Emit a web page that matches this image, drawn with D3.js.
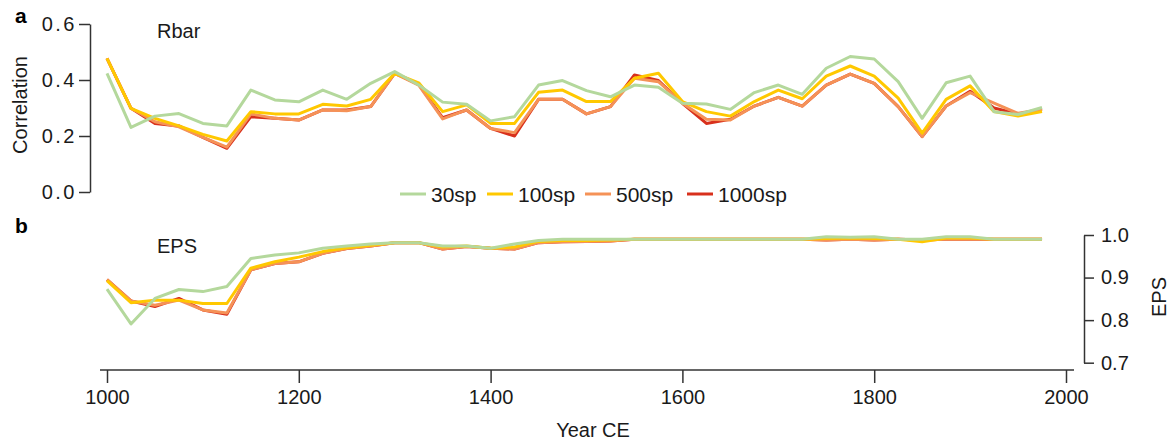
<!DOCTYPE html>
<html>
<head>
<meta charset="utf-8">
<script src="https://cdn.jsdelivr.net/npm/d3@7"></script>
<style>
  body { margin: 0; background: #fff; }
  svg { display: block; font-family: "Liberation Sans", Arial, sans-serif; }
  .axis text { font-size: 20px; fill: #1a1a1a; }
  .axis path, .axis line { stroke: #333; stroke-width: 1.5; }
</style>
</head>
<body>
<div class="chart"></div>
<script>
var svgWidth = 1174;
var svgHeight = 444;

// years, every 25 yr
var years = d3.range(1000, 2000, 25);

// Rbar (panel a)
var rbar30 = [0.424, 0.231, 0.271, 0.280, 0.245, 0.236, 0.364, 0.329, 0.322, 0.364,
  0.331, 0.388, 0.430, 0.382, 0.321, 0.313, 0.254, 0.269, 0.382, 0.398,
  0.362, 0.340, 0.382, 0.374, 0.317, 0.314, 0.295, 0.355, 0.382, 0.349,
  0.442, 0.484, 0.475, 0.394, 0.263, 0.390, 0.414, 0.287, 0.277, 0.302];
var rbar100 = [0.477, 0.299, 0.263, 0.236, 0.206, 0.182, 0.287, 0.279, 0.279, 0.313,
  0.307, 0.331, 0.424, 0.390, 0.287, 0.311, 0.245, 0.245, 0.356, 0.364,
  0.323, 0.323, 0.406, 0.424, 0.323, 0.287, 0.271, 0.323, 0.364, 0.333,
  0.414, 0.450, 0.414, 0.335, 0.210, 0.331, 0.379, 0.287, 0.271, 0.287];
var rbar500 = [0.477, 0.299, 0.251, 0.233, 0.195, 0.160, 0.279, 0.263, 0.257, 0.293,
  0.290, 0.305, 0.424, 0.382, 0.261, 0.293, 0.227, 0.212, 0.331, 0.331,
  0.279, 0.305, 0.406, 0.394, 0.317, 0.260, 0.257, 0.307, 0.338, 0.307,
  0.382, 0.421, 0.388, 0.305, 0.198, 0.307, 0.355, 0.317, 0.281, 0.295];
var rbar1000 = [0.477, 0.299, 0.245, 0.236, 0.195, 0.156, 0.269, 0.263, 0.257, 0.293,
  0.293, 0.305, 0.424, 0.385, 0.265, 0.293, 0.227, 0.200, 0.331, 0.331,
  0.279, 0.305, 0.418, 0.398, 0.317, 0.245, 0.260, 0.307, 0.338, 0.307,
  0.382, 0.421, 0.388, 0.305, 0.198, 0.307, 0.360, 0.300, 0.278, 0.297];

// EPS (panel b)
var eps30 = [0.873, 0.791, 0.851, 0.872, 0.867, 0.879, 0.945, 0.953, 0.958, 0.969,
  0.974, 0.979, 0.982, 0.982, 0.974, 0.974, 0.969, 0.979, 0.987, 0.990,
  0.990, 0.990, 0.990, 0.990, 0.990, 0.990, 0.990, 0.990, 0.990, 0.990,
  0.996, 0.995, 0.996, 0.990, 0.990, 0.996, 0.996, 0.990, 0.990, 0.990];
var eps100 = [0.893, 0.841, 0.847, 0.847, 0.839, 0.839, 0.922, 0.937, 0.948, 0.961,
  0.970, 0.976, 0.982, 0.982, 0.972, 0.974, 0.969, 0.972, 0.985, 0.987,
  0.987, 0.988, 0.990, 0.990, 0.990, 0.990, 0.990, 0.990, 0.990, 0.990,
  0.992, 0.993, 0.992, 0.990, 0.984, 0.993, 0.993, 0.990, 0.990, 0.990];
var eps500 = [0.895, 0.845, 0.835, 0.847, 0.824, 0.817, 0.918, 0.933, 0.937, 0.957,
  0.968, 0.974, 0.982, 0.982, 0.967, 0.973, 0.969, 0.967, 0.982, 0.984,
  0.985, 0.986, 0.990, 0.990, 0.990, 0.990, 0.990, 0.990, 0.990, 0.990,
  0.988, 0.990, 0.988, 0.990, 0.988, 0.990, 0.990, 0.990, 0.990, 0.990];
var eps1000 = [0.895, 0.845, 0.832, 0.851, 0.824, 0.814, 0.918, 0.933, 0.937, 0.957,
  0.968, 0.974, 0.982, 0.982, 0.967, 0.973, 0.969, 0.967, 0.982, 0.984,
  0.985, 0.986, 0.990, 0.990, 0.990, 0.990, 0.990, 0.990, 0.990, 0.990,
  0.988, 0.990, 0.988, 0.990, 0.988, 0.990, 0.990, 0.990, 0.990, 0.990];

var seriesNames = ["30sp", "100sp", "500sp", "1000sp"];
var seriesColors = ["#b4d89c", "#ffc800", "#f59257", "#d8301c"];
var rbarSeries = [rbar30, rbar100, rbar500, rbar1000];
var epsSeries = [eps30, eps100, eps500, eps1000];

var xTicks = [1000, 1200, 1400, 1600, 1800, 2000];
var rbarTicks = [0.0, 0.2, 0.4, 0.6];
var epsTicks = [0.7, 0.8, 0.9, 1.0];

var svg = d3.select(".chart")
  .append("svg")
  .attr("width", svgWidth)
  .attr("height", svgHeight);

// scales
var xScale = d3.scaleLinear().domain([1000, 2000]).range([107, 1066]);
var yRbar = d3.scaleLinear().domain([0, 0.6]).range([192, 24]);
var yEps = d3.scaleLinear().domain([0.7, 1.0]).range([362.7, 235]);

// axes
var xAxis = svg.append("g")
  .attr("class", "axis")
  .attr("transform", "translate(0,370)")
  .call(d3.axisBottom(xScale).tickValues(xTicks).tickFormat(d3.format("d")).tickSize(13).tickSizeOuter(0).tickPadding(7));
xAxis.select(".domain").attr("d", "M100,0H1074");

var rbarAxis = svg.append("g")
  .attr("class", "axis")
  .attr("transform", "translate(90,0)")
  .call(d3.axisLeft(yRbar).tickValues(rbarTicks).tickFormat(d3.format(".1f")).tickSize(11).tickSizeOuter(0).tickPadding(2));
rbarAxis.selectAll("text").attr("letter-spacing", "2.5px");

svg.append("g")
  .attr("class", "axis")
  .attr("transform", "translate(1084,0)")
  .call(d3.axisRight(yEps).tickValues(epsTicks).tickFormat(d3.format(".1f")).tickSize(10).tickSizeOuter(0).tickPadding(7));

// lines, red at the back and green on top
function drawLines(series, yScale) {
  var line = d3.line()
    .x(function(d, i) { return xScale(years[i]); })
    .y(function(d) { return yScale(d); });
  for (var k = series.length - 1; k >= 0; k--) {
    svg.append("path")
      .datum(series[k])
      .attr("fill", "none")
      .attr("stroke", seriesColors[k])
      .attr("stroke-width", 3)
      .attr("stroke-linejoin", "round")
      .attr("d", line);
  }
}
drawLines(rbarSeries, yRbar);
drawLines(epsSeries, yEps);

// legend
var legendX = [400, 487, 585, 687];
var legend = svg.selectAll(".legend")
  .data(seriesNames)
  .enter()
  .append("g")
  .attr("transform", function(d, i) { return "translate(" + legendX[i] + ",194)"; });
legend.append("line")
  .attr("x1", 0).attr("x2", 26)
  .attr("stroke", function(d, i) { return seriesColors[i]; })
  .attr("stroke-width", 3);
legend.append("text")
  .attr("x", 31)
  .attr("y", 8)
  .attr("font-size", "21px")
  .attr("fill", "#1a1a1a")
  .text(function(d) { return d; });

// labels
svg.append("text").attr("x", 15).attr("y", 23).attr("font-size", "21px").attr("font-weight", "bold").text("a");
svg.append("text").attr("x", 15).attr("y", 233).attr("font-size", "21px").attr("font-weight", "bold").text("b");
svg.append("text").attr("x", 157).attr("y", 38).attr("font-size", "20px").attr("fill", "#1a1a1a").text("Rbar");
svg.append("text").attr("x", 157).attr("y", 253).attr("font-size", "20px").attr("fill", "#1a1a1a").text("EPS");

svg.append("text")
  .attr("transform", "translate(27,105) rotate(-90)")
  .attr("text-anchor", "middle")
  .attr("font-size", "20px")
  .attr("fill", "#1a1a1a")
  .text("Correlation");

svg.append("text")
  .attr("transform", "translate(1166,297) rotate(-90)")
  .attr("text-anchor", "middle")
  .attr("font-size", "20px")
  .attr("fill", "#1a1a1a")
  .text("EPS");

svg.append("text")
  .attr("x", 593)
  .attr("y", 437)
  .attr("text-anchor", "middle")
  .attr("font-size", "20px")
  .attr("fill", "#1a1a1a")
  .text("Year CE");
</script>
</body>
</html>
